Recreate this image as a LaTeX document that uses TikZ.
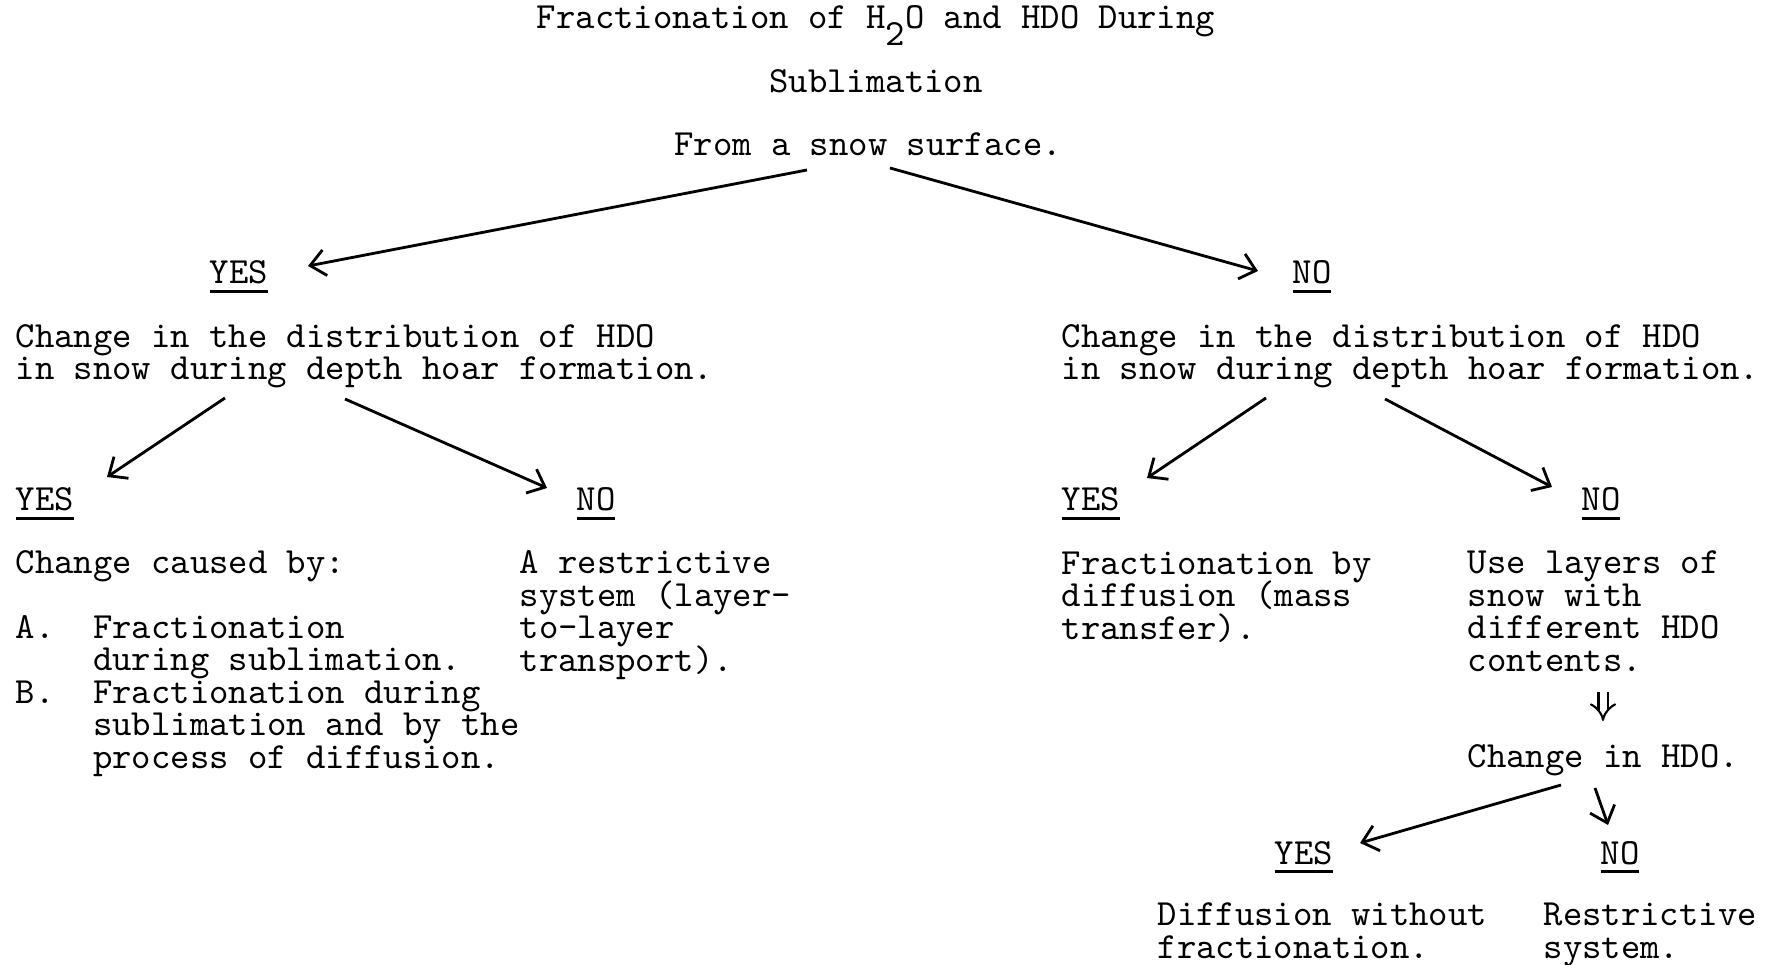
\documentclass[tikz,border=0pt]{standalone}
\usepackage{fontspec}
\usepackage{tikz}
\usetikzlibrary{arrows.meta, positioning, calc}
\newcommand\typed{\ttfamily\fontsize{10.5}{9.2}\selectfont\lineskiplimit=-20pt\relax}
\newcommand\answer[1]{\setbox0\hbox{#1}\rlap{\vrule height -1.6pt depth 2.6pt width \wd0}\box0}
\newcommand\ind{\hphantom{A.~~}}

\begin{document}
\begin{tikzpicture}[
    txt/.style={font=\typed, inner sep=0pt, align=left, anchor=base west},
    arr/.style={-{Straight Barb[length=1.5mm,width=2.6mm]}, thick}]
    \useasboundingbox (0,0) rectangle (17.73,-9.65);

    % Title (nodes sit on the baseline of their last line)
    \node[txt,anchor=base] (title1) at (8.76,-0.29) {Fractionation of H\raisebox{-4.8pt}{2}O and HDO During};
    \node[txt,anchor=base] (title2) at (8.76,-0.93) {Sublimation};
    \node[txt,anchor=base] (snow) at (8.68,-1.56) {From a snow surface.};

    % First answers
    \node[txt] (yesA) at (2.09,-2.84) {\answer{YES}};
    \node[txt] (noA) at (12.92,-2.84) {\answer{NO}};
    \node[txt] (distL) at (0.15,-3.80) {Change in the distribution of HDO\\in snow during depth hoar formation.};
    \node[txt] (distR) at (10.61,-3.80) {Change in the distribution of HDO\\in snow during depth hoar formation.};

    % Second answers
    \node[txt] (yesL) at (0.15,-5.11) {\answer{YES}};
    \node[txt] (noL) at (5.76,-5.11) {\answer{NO}};
    \node[txt] (yesR) at (10.61,-5.11) {\answer{YES}};
    \node[txt] (noR) at (15.81,-5.11) {\answer{NO}};

    \node[txt] (causedL) at (0.15,-7.68) {Change caused by:\\[9.2pt]A.~~Fractionation\\\ind during sublimation.\\B.~~Fractionation during\\\ind sublimation and by the\\\ind process of diffusion.};
    \node[txt] (restrL) at (5.19,-6.71) {A restrictive\\system (layer-\\to-layer\\transport).};
    \node[txt] (fracR) at (10.61,-6.39) {Fractionation by\\diffusion (mass\\transfer).};
    \node[txt] (layersR) at (14.67,-6.71) {Use layers of\\snow with\\different HDO\\contents.};

    % Layer test
    \node[txt] (hdo) at (14.67,-7.67) {Change in HDO.};
    \node[txt] (yesB) at (12.74,-8.64) {\answer{YES}};
    \node[txt] (noB) at (16.00,-8.64) {\answer{NO}};
    \node[txt] (diffB) at (11.57,-9.58) {Diffusion without\\fractionation.};
    \node[txt] (restrB) at (15.43,-9.58) {Restrictive\\system.};

    % Arrows
    \draw[arr] ([shift={(-0.61,-0.14)}]snow.base) -- ([shift={(0.99,0.18)}]yesA.base west);
    \draw[arr] ([shift={(0.22,-0.12)}]snow.base) -- ([shift={(-0.34,0.13)}]noA.base west);
    \draw[arr] ([shift={(2.10,-0.18)}]distL.base west) -- ([shift={(0.92,0.34)}]yesL.base west);
    \draw[arr] ([shift={(3.30,-0.19)}]distL.base west) -- ([shift={(-0.29,0.23)}]noL.base west);
    \draw[arr] ([shift={(2.05,-0.18)}]distR.base west) -- ([shift={(0.86,0.33)}]yesR.base west);
    \draw[arr] ([shift={(3.24,-0.19)}]distR.base west) -- ([shift={(-0.29,0.24)}]noR.base west);
    \draw[double,double distance=2pt,line width=0.6pt,-{Implies[scale=1.6]}] ([shift={(1.36,-0.21)}]layersR.base west) -- ([shift={(1.36,0.46)}]hdo.base west);
    \draw[arr] ([shift={(0.94,-0.18)}]hdo.base west) -- ([shift={(0.86,0.21)}]yesB.base west);
    \draw[arr] ([shift={(1.28,-0.21)}]hdo.base west) -- ([shift={(0.08,0.39)}]noB.base west);
\end{tikzpicture}
\end{document}
